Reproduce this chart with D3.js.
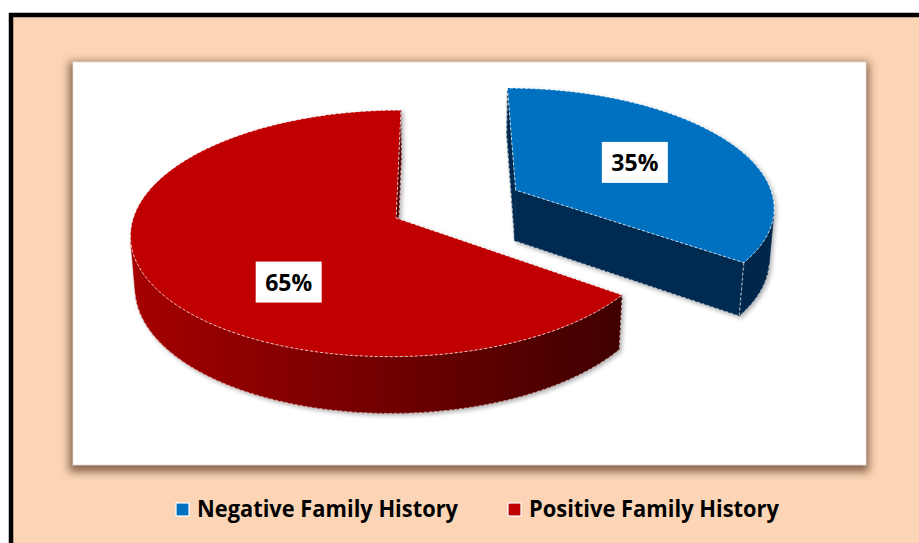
<!DOCTYPE html>
<html>
<head>
<meta charset="utf-8">
<script src="https://cdn.jsdelivr.net/npm/d3@7"></script>
<style>
  body { margin: 0; background: #fff; }
  text { font-family: "Open Sans", "Noto Sans", sans-serif; font-weight: bold; }
</style>
</head>
<body>
<div id="chart"></div>
<script>
// Chart data
const categories = ["Negative Family History", "Positive Family History"];
const values = [35, 65];
const valueLabels = ["35%", "65%"];
const topColors = ["#0070C0", "#C00000"];
const sideColors = [["#003563", "#00264a"], ["#a40000", "#380000"]];
const explode = [0.52, 0];

// Layout of the picture
const W = 919, H = 543;
const cam = { cx: 440, cy: 218, F: 1866, D: 7.1, phi: 27.5 * Math.PI / 180, h: 0.225, a: 0.167 };
const labelAt = [{ r: 0.55, da: 0 }, { r: 0.62, da: -26 }];

const svg = d3.select("#chart")
    .append("svg")
    .attr("width", W)
    .attr("height", H);

const defs = svg.append("defs");
defs.append("filter")
    .attr("id", "blur4")
    .attr("x", "-10%").attr("y", "-10%").attr("width", "120%").attr("height", "120%")
    .append("feGaussianBlur")
    .attr("stdDeviation", 4);
defs.append("filter")
    .attr("id", "pieShadow")
    .attr("x", "-10%").attr("y", "-10%").attr("width", "120%").attr("height", "130%")
    .append("feDropShadow")
    .attr("dx", 2).attr("dy", 2)
    .attr("stdDeviation", 2)
    .attr("flood-color", "#000")
    .attr("flood-opacity", 0.3);

// Outer frame
svg.append("rect")
    .attr("x", 11).attr("y", 15)
    .attr("width", W + 20).attr("height", H + 20)
    .attr("fill", "#FBD5B5")
    .attr("stroke", "#000")
    .attr("stroke-width", 4.5);

// Plot area with its shadow
svg.append("rect")
    .attr("x", 69).attr("y", 62)
    .attr("width", 800).attr("height", 410)
    .attr("fill", "#6e4c38")
    .attr("opacity", 0.8)
    .attr("filter", "url(#blur4)");
svg.append("rect")
    .attr("x", 73).attr("y", 62)
    .attr("width", 793).attr("height", 403)
    .attr("fill", "#fff")
    .attr("stroke", "#e8e0d8")
    .attr("stroke-width", 0.8);

// Perspective projection of the 3D pie
const cosP = Math.cos(cam.phi), sinP = Math.sin(cam.phi);
const camPos = { X: 0, Z: cam.D * cosP };
function proj(X, Y, Z) {
    const yUp = Y * cosP - Z * sinP;
    const depth = cam.D - (Z * cosP + Y * sinP);
    return [cam.cx + cam.F * X / depth, cam.cy - cam.F * yUp / depth];
}
function pt(s, th, r, Y) {
    return proj(s.ox + r * Math.sin(th), Y, s.oz - r * Math.cos(th));
}
function facing(nx, nz, X, Z) {
    return nx * (camPos.X - X) + nz * (camPos.Z - Z) > 0;
}
const line = d3.line();

const pie = d3.pie().sort(null).value(d => d)(values);
const slices = pie.map((p, i) => {
    const mid = (p.startAngle + p.endAngle) / 2;
    return {
        i: i, a0: p.startAngle, a1: p.endAngle, mid: mid,
        ox: -cam.a + explode[i] * Math.sin(mid),
        oz: -explode[i] * Math.cos(mid)
    };
});

const pieG = svg.append("g").attr("filter", "url(#pieShadow)");
const edgeStyle = sel => sel
    .attr("fill", "none")
    .attr("stroke", "#fff")
    .attr("stroke-width", 1)
    .attr("stroke-dasharray", "3,2");

slices.slice().sort((a, b) => a.oz - b.oz).forEach(s => {
    const g = pieG.append("g");
    const h = cam.h;
    const shade = d3.interpolateRgb(sideColors[s.i][0], sideColors[s.i][1]);

    // horizontal gradient for the curved wall: light on the left, dark on the right
    const xl = pt(s, 1.5 * Math.PI, 1, -h)[0], xr = pt(s, 0.5 * Math.PI, 1, -h)[0];
    const grad = defs.append("linearGradient")
        .attr("id", "wall" + s.i)
        .attr("gradientUnits", "userSpaceOnUse")
        .attr("x1", xl).attr("x2", xr).attr("y1", 0).attr("y2", 0);
    d3.range(0, 1.001, 0.25).forEach(t => grad.append("stop")
        .attr("offset", t)
        .attr("stop-color", shade(t)));

    // radial cut faces
    [[s.a0, -1], [s.a1, 1]].forEach(([th, sgn]) => {
        const nx = sgn * Math.cos(th), nz = sgn * Math.sin(th);
        const mx = s.ox + 0.5 * Math.sin(th), mz = s.oz - 0.5 * Math.cos(th);
        if (!facing(nx, nz, mx, mz)) return;
        const poly = [pt(s, th, 0, 0), pt(s, th, 1, 0), pt(s, th, 1, -h), pt(s, th, 0, -h)];
        g.append("path")
            .attr("d", line(poly) + "Z")
            .attr("fill", shade(0.75))
            .attr("stroke", shade(0.75))
            .attr("stroke-width", 0.5);
        g.append("path")
            .attr("d", line([poly[1], poly[2], poly[3]]))
            .call(edgeStyle)
            .attr("opacity", 0.6);
    });

    // outer curved wall, drawn as runs of visible angles
    const step = Math.PI / 360;
    const n = Math.ceil((s.a1 - s.a0) / step);
    const runs = [];
    let run = null;
    for (let k = 0; k < n; k++) {
        const t0 = s.a0 + (s.a1 - s.a0) * k / n;
        const t1 = s.a0 + (s.a1 - s.a0) * (k + 1) / n;
        const tm = (t0 + t1) / 2;
        const mx = s.ox + Math.sin(tm), mz = s.oz - Math.cos(tm);
        if (!facing(Math.sin(tm), -Math.cos(tm), mx, mz)) { run = null; continue; }
        if (!run) { run = [t0]; runs.push(run); }
        run.push(t1);
    }
    runs.forEach(r => {
        const topEdge = r.map(t => pt(s, t, 1, 0));
        const botEdge = r.map(t => pt(s, t, 1, -h));
        g.append("path")
            .attr("d", line(topEdge.concat(botEdge.slice().reverse())) + "Z")
            .attr("fill", `url(#wall${s.i})`)
            .attr("stroke", `url(#wall${s.i})`)
            .attr("stroke-width", 0.5);
        g.append("path").attr("d", line(botEdge)).call(edgeStyle).attr("opacity", 0.5);
        if (Math.abs(r[r.length - 1] - s.a1) < 1e-6 || Math.abs(r[0] - s.a0) < 1e-6) {
            const te = Math.abs(r[r.length - 1] - s.a1) < 1e-6 ? s.a1 : s.a0;
            g.append("path")
                .attr("d", line([pt(s, te, 1, 0), pt(s, te, 1, -h)]))
                .call(edgeStyle).attr("opacity", 0.6);
        }
    });

    // top face
    const topPts = [pt(s, s.a0, 0, 0)];
    for (let k = 0; k <= n; k++) topPts.push(pt(s, s.a0 + (s.a1 - s.a0) * k / n, 1, 0));
    g.append("path")
        .attr("d", line(topPts) + "Z")
        .attr("fill", topColors[s.i]);
    g.append("path")
        .attr("d", line(topPts) + "Z")
        .call(edgeStyle)
        .attr("opacity", 0.75);
});

// Value labels
slices.forEach(s => {
    const la = labelAt[s.i];
    const [lx, ly] = pt(s, s.mid + la.da * Math.PI / 180, la.r, 0);
    const lg = svg.append("g").attr("transform", `translate(${lx},${ly})`);
    lg.append("rect")
        .attr("x", -33).attr("y", -20.5)
        .attr("width", 66).attr("height", 41)
        .attr("fill", "#fff");
    lg.append("text")
        .attr("text-anchor", "middle")
        .attr("y", 8.5)
        .style("font-size", "23px")
        .attr("fill", "#000")
        .text(valueLabels[s.i]);
});

// Legend
const legendWidths = [261, 250];
const legend = svg.append("g").attr("transform", "translate(176,517)");
let lx = 0;
categories.forEach((c, i) => {
    legend.append("rect")
        .attr("x", lx).attr("y", -14)
        .attr("width", 13).attr("height", 13)
        .attr("fill", topColors[i])
        .attr("stroke", "#fff")
        .attr("stroke-width", 1.2);
    legend.append("text")
        .attr("x", lx + 21)
        .attr("y", 0)
        .style("font-size", "23px")
        .attr("fill", "#000")
        .attr("textLength", legendWidths[i])
        .attr("lengthAdjust", "spacingAndGlyphs")
        .text(c);
    lx += 21 + legendWidths[i] + 50;
});
</script>
</body>
</html>
